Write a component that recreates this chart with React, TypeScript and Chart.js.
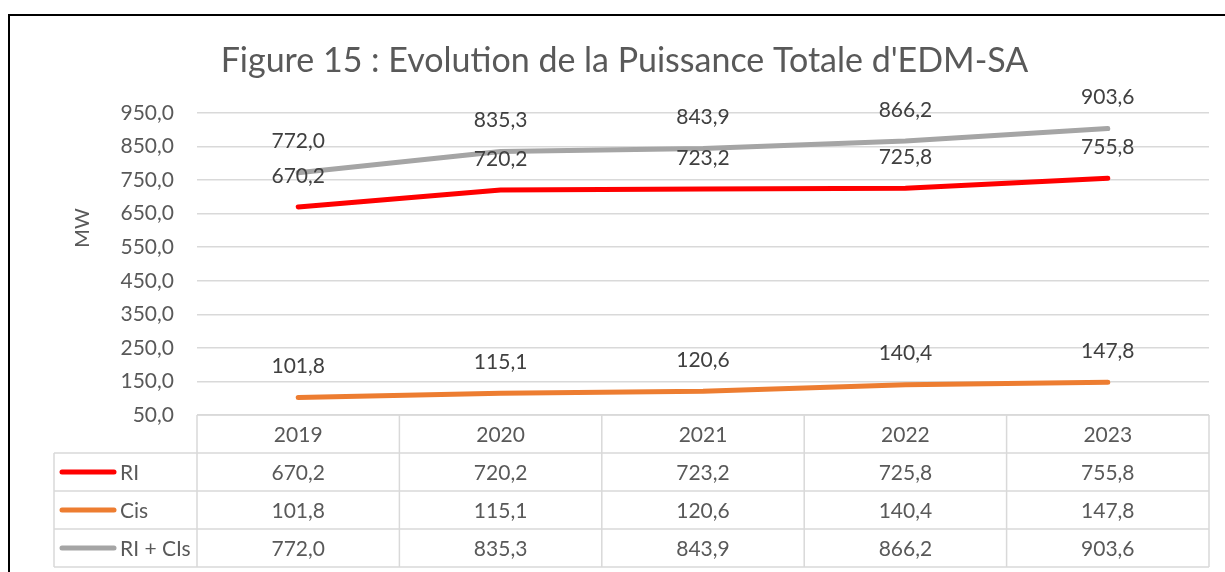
import React, { useEffect, useRef } from "react";
import { Chart, registerables } from "chart.js";

Chart.register(...registerables);

const TITLE = "Figure 15 : Evolution de la Puissance Totale d'EDM-SA";
const Y_TITLE = "MW";
const categories = ["2019", "2020", "2021", "2022", "2023"];
const seriesRI = [670.2, 720.2, 723.2, 725.8, 755.8];
const seriesCis = [101.8, 115.1, 120.6, 140.4, 147.8];
const seriesTotal = [772.0, 835.3, 843.9, 866.2, 903.6];
const seriesNames = ["RI", "Cis", "RI + CIs"];
const seriesColors = ["#FF0000", "#ED7D31", "#A5A5A5"];
const Y_MIN = 50;
const Y_MAX = 950;
const Y_STEP = 100;

const FONT = "Lato, 'Open Sans', sans-serif";
const fmt = (v: number) => v.toFixed(1).replace(".", ",");

const ROW_H = 38;
const LEGEND_COL_W = 143;

const tablePlugin = {
  id: "dataTable",
  afterDraw(chart: any) {
    const ctx = chart.ctx as CanvasRenderingContext2D;
    const area = chart.chartArea;
    const xs = chart.scales.x;
    const n = categories.length;
    const colW = (area.right - area.left) / n;
    const top = area.bottom;
    const legendLeft = area.left - LEGEND_COL_W;
    const nRows = chart.data.datasets.length;

    ctx.save();
    // title
    ctx.fillStyle = "#595959";
    ctx.font = `34px ${FONT}`;
    ctx.textAlign = "center";
    ctx.textBaseline = "middle";
    ctx.fillText(TITLE, chart.width / 2 + 7, area.top - 52);

    // y title
    ctx.save();
    ctx.translate(area.left - 114, area.top + 115);
    ctx.rotate(-Math.PI / 2);
    ctx.font = `20px ${FONT}`;
    ctx.fillText(Y_TITLE, 0, 0);
    ctx.restore();

    // table grid
    ctx.strokeStyle = "#D9D9D9";
    ctx.lineWidth = 1.5;
    ctx.beginPath();
    ctx.moveTo(area.left, top);
    ctx.lineTo(area.right, top);
    for (let r = 1; r <= nRows + 1; r++) {
      const y = top + r * ROW_H;
      ctx.moveTo(legendLeft, y);
      ctx.lineTo(area.right, y);
    }
    for (let c = 0; c <= n; c++) {
      const x = c === n ? area.right : xs.getPixelForValue(c) - colW / 2;
      ctx.moveTo(x, top);
      ctx.lineTo(x, top + (nRows + 1) * ROW_H);
    }
    ctx.moveTo(legendLeft, top + ROW_H);
    ctx.lineTo(legendLeft, top + (nRows + 1) * ROW_H);
    ctx.stroke();

    // header labels
    ctx.fillStyle = "#595959";
    ctx.font = `21px ${FONT}`;
    ctx.textAlign = "center";
    ctx.textBaseline = "middle";
    categories.forEach((cat, i) => {
      ctx.fillText(cat, xs.getPixelForValue(i), top + ROW_H / 2 + 1);
    });

    chart.data.datasets.forEach((ds: any, r: number) => {
      const yc = top + (r + 1) * ROW_H + ROW_H / 2 + 1;
      ctx.strokeStyle = ds.borderColor;
      ctx.lineWidth = 5;
      ctx.lineCap = "round";
      ctx.beginPath();
      ctx.moveTo(legendLeft + 8, yc - 1);
      ctx.lineTo(legendLeft + 60, yc - 1);
      ctx.stroke();
      ctx.fillStyle = "#595959";
      ctx.textAlign = "left";
      ctx.fillText(ds.label, legendLeft + 66, yc);
      ctx.textAlign = "center";
      ds.data.forEach((v: number, i: number) => {
        ctx.fillText(fmt(v), xs.getPixelForValue(i), yc);
      });
    });

    ctx.restore();
  },
};

const labelPlugin = {
  id: "pointLabels",
  afterDatasetsDraw(chart: any) {
    const ctx = chart.ctx as CanvasRenderingContext2D;
    ctx.save();
    ctx.fillStyle = "#404040";
    ctx.font = `21px ${FONT}`;
    ctx.textAlign = "center";
    ctx.textBaseline = "middle";
    chart.data.datasets.forEach((ds: any, di: number) => {
      const meta = chart.getDatasetMeta(di);
      meta.data.forEach((pt: any, i: number) => {
        ctx.fillText(fmt(ds.data[i]), pt.x, pt.y - 31);
      });
    });
    ctx.restore();
  },
};

export default function App() {
  const ref = useRef<HTMLCanvasElement>(null);

  useEffect(() => {
    if (!ref.current) return;
    const mk = (label: string, data: number[], color: string) => ({
      label,
      data,
      borderColor: color,
      backgroundColor: color,
      borderWidth: 5,
      borderCapStyle: "round" as const,
      borderJoinStyle: "round" as const,
      pointRadius: 0,
      tension: 0,
      fill: false,
    });
    const chart = new Chart(ref.current, {
      type: "line",
      data: {
        labels: categories,
        datasets: [
          mk(seriesNames[0], seriesRI, seriesColors[0]),
          mk(seriesNames[1], seriesCis, seriesColors[1]),
          mk(seriesNames[2], seriesTotal, seriesColors[2]),
        ],
      },
      options: {
        responsive: false,
        animation: false,
        layout: { padding: { left: 0, right: 16, top: 97, bottom: 157 } },
        plugins: {
          legend: { display: false },
          title: { display: false },
          tooltip: { enabled: false },
        },
        scales: {
          x: {
            type: "category",
            display: false,
            offset: true,
          },
          y: {
            min: Y_MIN,
            max: Y_MAX,
            afterFit: (s: any) => {
              s.width = 187;
            },
            border: { display: false },
            grid: { color: "#D9D9D9", lineWidth: 1.5, drawTicks: false },
            ticks: {
              stepSize: Y_STEP,
              padding: 23,
              color: "#595959",
              font: { family: FONT, size: 21 },
              callback: (v: any) => fmt(Number(v)),
            },
          },
        },
      },
      plugins: [labelPlugin, tablePlugin],
    });
    return () => chart.destroy();
  }, []);

  return (
    <div style={{ position: "fixed", inset: 0, overflow: "hidden", background: "#fff" }}>
      <div
        style={{
          position: "absolute",
          left: 8,
          top: 14,
          borderLeft: "2px solid #000",
          borderTop: "2px solid #000",
          width: 1217,
          height: 558,
        }}
      >
        <canvas ref={ref} width={1215} height={556} style={{ display: "block" }} />
      </div>
    </div>
  );
}
